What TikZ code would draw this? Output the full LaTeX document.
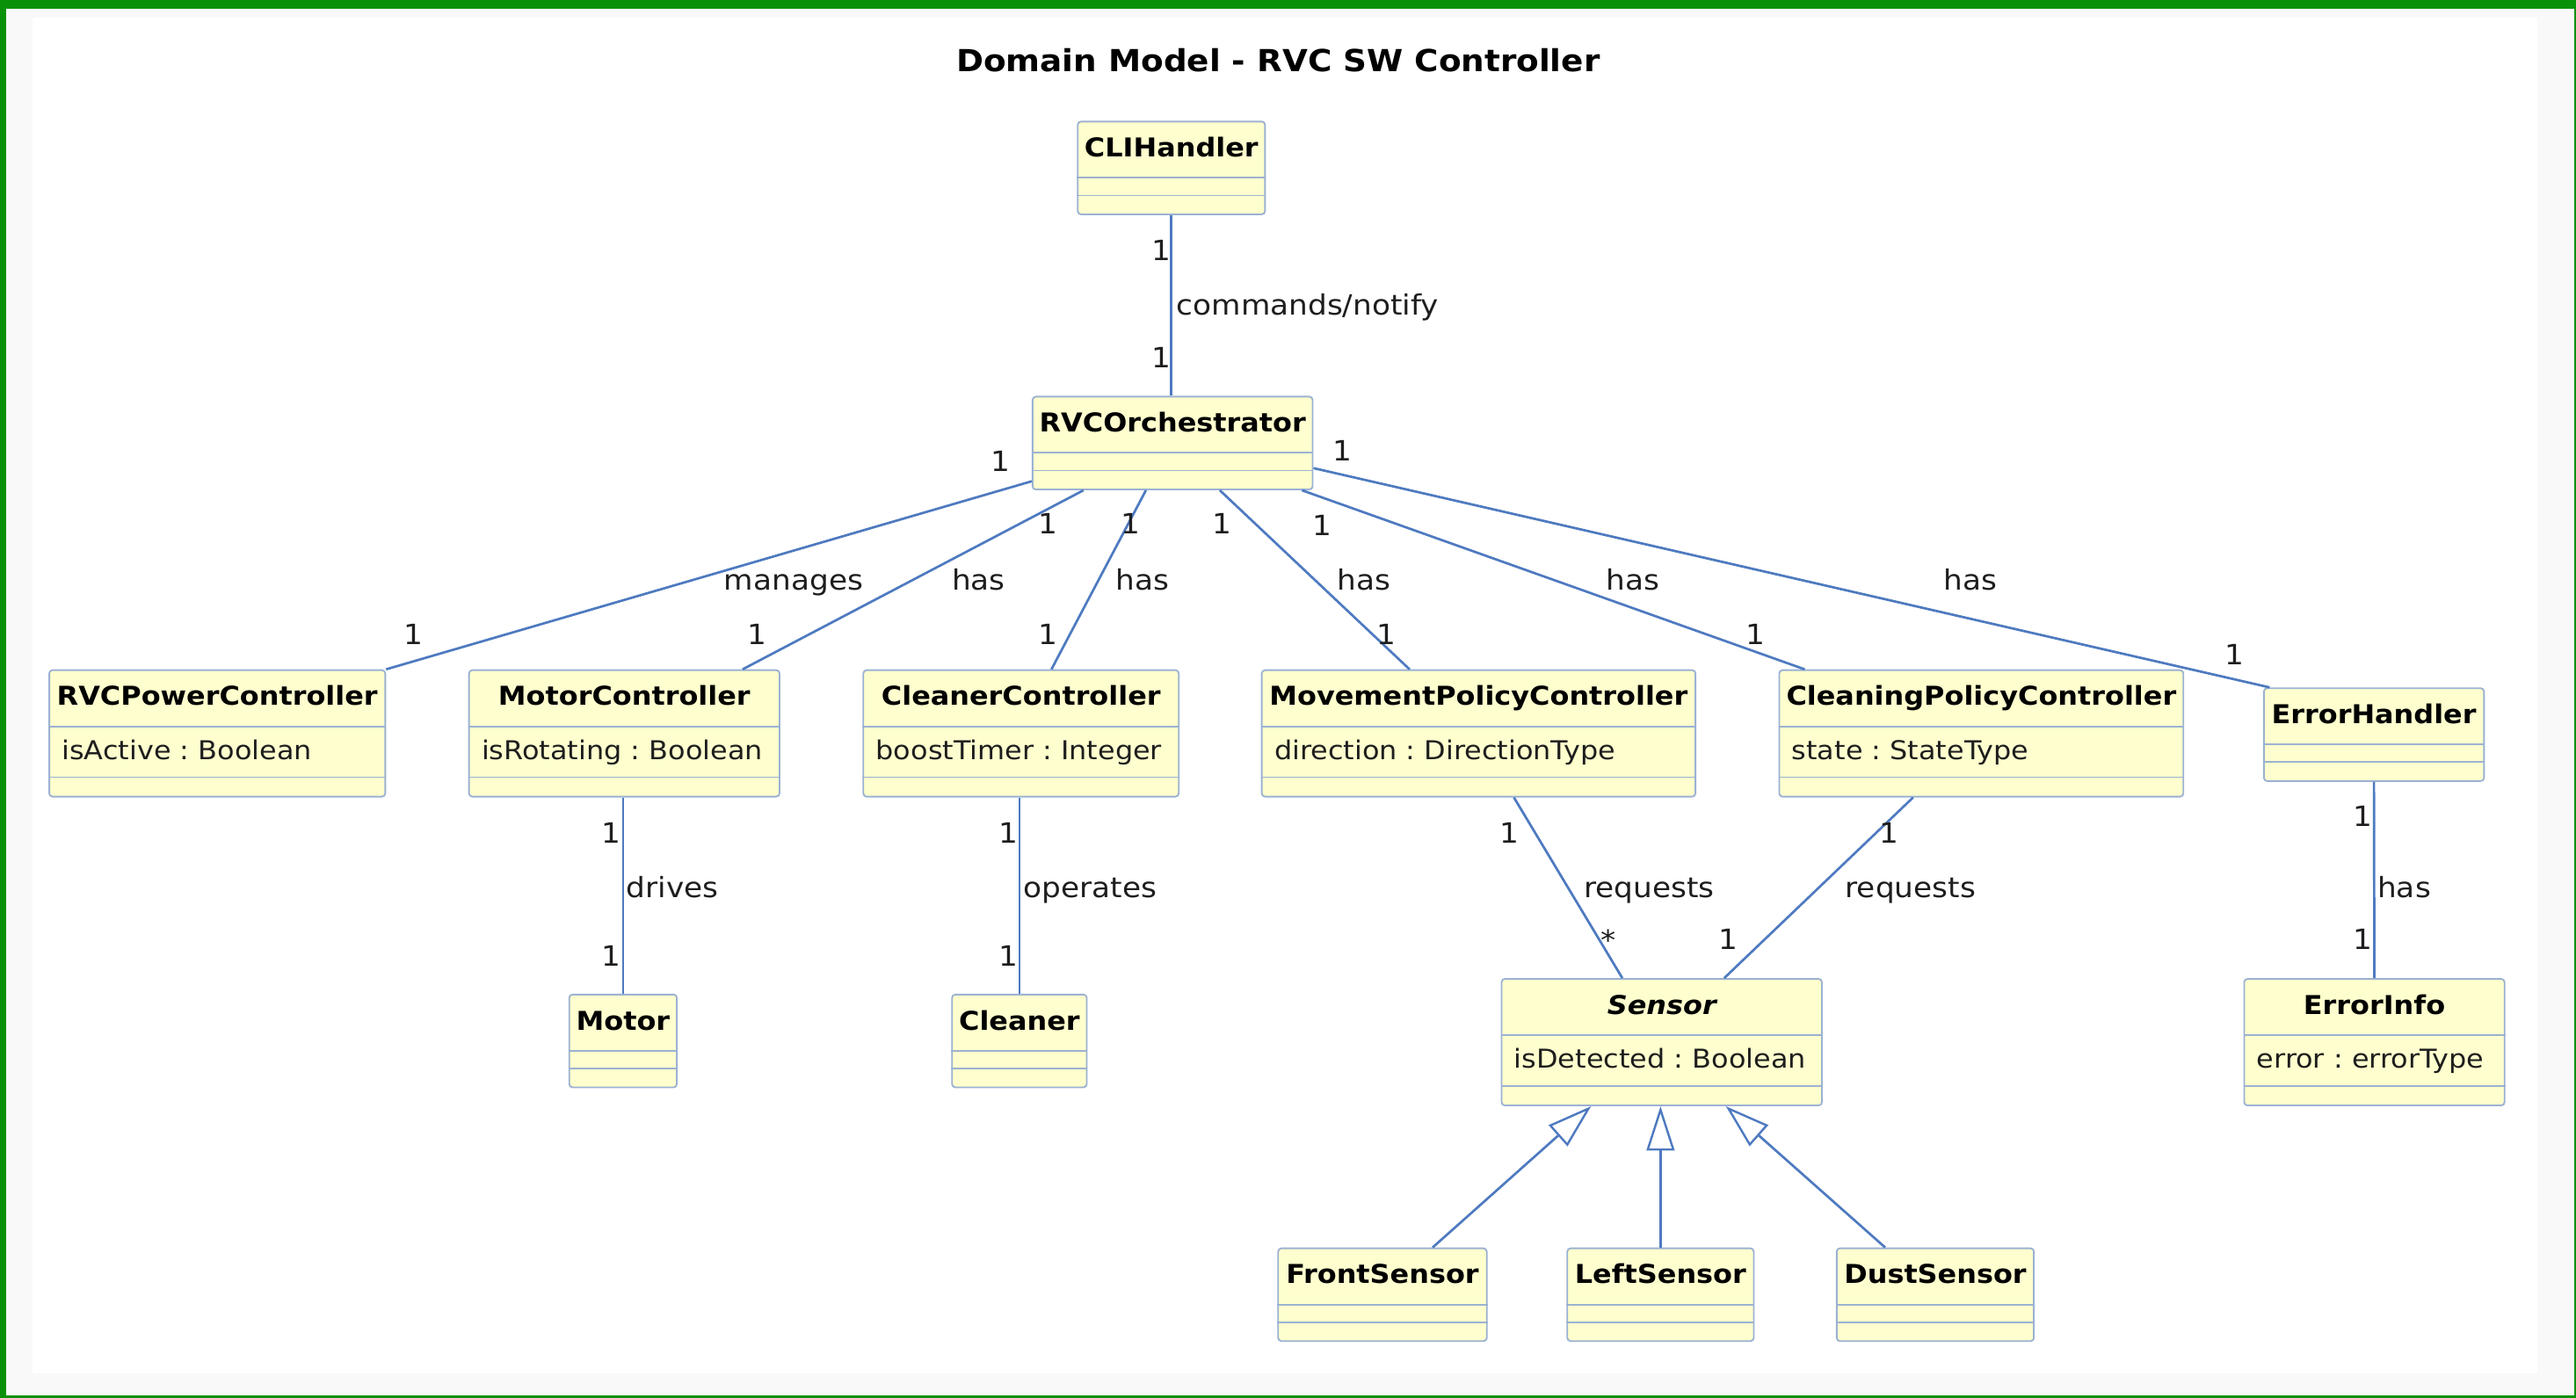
\documentclass[tikz,border=0pt]{standalone}
\usepackage{fontspec}
\setmainfont[FakeStretch=1.08]{DejaVu Sans}
\usetikzlibrary{arrows.meta}
\frenchspacing
\definecolor{umlgreen}{RGB}{10,145,10}
\definecolor{umlbg}{RGB}{249,249,249}
\definecolor{umlfill}{RGB}{254,254,206}
\definecolor{umlborder}{RGB}{155,178,210}
\definecolor{umlline}{RGB}{78,122,192}
\definecolor{umltext}{RGB}{30,30,30}
\newcommand\uclass[6]{%
  \def\tmpattr{#6}%
  \ifx\tmpattr\empty \def\ucH{56.5}\else \def\ucH{77}\fi
  \pgfmathsetmacro\ucW{#4-#2}%
  \node[classbox, minimum width={\ucW*1pt}, minimum height={\ucH*1pt}] (#1) at ({(#2+#4)/2},{#3+\ucH/2}) {};
  \draw[divline] ([yshift=-34.7pt]#1.north west) -- ([yshift=-34.7pt]#1.north east);
  \node[nametext] (#1-name) at ([yshift=-22pt]#1.north) {#5};
  \ifx\tmpattr\empty
    \draw[divline] ([yshift=-45.5pt]#1.north west) -- ([yshift=-45.5pt]#1.north east);
  \else
    \draw[divline] ([yshift=-65.7pt]#1.north west) -- ([yshift=-65.7pt]#1.north east);
    \node[attrtext] (#1-attr) at ([yshift=-55pt, xshift=8pt]#1.north west) {#6};
  \fi
}
\begin{document}
\begin{tikzpicture}[x=1pt,y=-1pt,
  classbox/.style={draw=umlborder, fill=umlfill, line width=1pt, rounded corners=2pt, inner sep=0pt, rectangle},
  divline/.style={draw=umlborder, line width=1pt},
  nametext/.style={font=\fontsize{15.8}{18}\selectfont\bfseries, inner sep=0pt, anchor=base, text=black},
  attrtext/.style={font=\fontsize{15.8}{18}\selectfont, inner sep=0pt, anchor=base west, text=umltext},
  assoc/.style={draw=umlline, line width=1.45pt},
  gen/.style={assoc, -{Triangle[length=27pt,width=17pt,fill=white,line width=1.3pt]}},
  lbl/.style={font=\fontsize{17}{20}\selectfont, inner sep=0pt, anchor=base west, text=umltext},
  mult/.style={font=\fontsize{17}{20}\selectfont, inner sep=0pt, text=umltext}]
\useasboundingbox (0,0) rectangle (1568,851);
\fill[umlgreen] (0,0) rectangle (1568,851);
\fill[umlbg] (3.7,5.4) rectangle (1566.9,849.6);
\fill[white] (19.8,10.7) rectangle (1544.6,836.3);

\node[font=\fontsize{18.5}{22}\selectfont\bfseries, inner sep=0pt, anchor=base] (title) at (778,43.5) {Domain Model - RVC SW Controller};

\uclass{cli}{656}{74}{770}{CLIHandler}{}
\uclass{rvc}{628.5}{241.5}{799}{RVCOrchestrator}{}
\uclass{power}{30}{408}{234.5}{RVCPowerController}{isActive : Boolean}
\uclass{mc}{285.5}{408}{474.5}{MotorController}{isRotating : Boolean}
\uclass{cc}{525.5}{408}{717.5}{CleanerController}{boostTimer : Integer}
\uclass{mpc}{768}{408}{1032}{MovementPolicyController}{direction : DirectionType}
\uclass{cpc}{1083}{408}{1329}{CleaningPolicyController}{state : StateType}
\uclass{eh}{1378}{419}{1512}{ErrorHandler}{}
\uclass{motor}{346.5}{605.5}{412}{Motor}{}
\uclass{cleaner}{579.5}{605.5}{661.5}{Cleaner}{}
\uclass{sensor}{914}{596}{1109}{\itshape Sensor}{isDetected : Boolean}
\uclass{ei}{1366}{596}{1524.5}{ErrorInfo}{error : errorType}
\uclass{fs}{778}{760}{905}{FrontSensor}{}
\uclass{ls}{954}{760}{1067.5}{LeftSensor}{}
\uclass{ds}{1118}{760}{1238}{DustSensor}{}

% associations
\draw[assoc] (cli.south) -- (cli.south |- rvc.north);
\draw[assoc] ([yshift=5.5pt]rvc.south west) -- (power.north east);
\draw[assoc] ([xshift=31.5pt]rvc.south west) -- ([xshift=-23pt]mc.north east);
\draw[assoc] ([xshift=69.5pt]rvc.south west) -- ([xshift=18.5pt]cc.north);
\draw[assoc] ([xshift=114.5pt]rvc.south west) -- ([xshift=90.5pt]mpc.north west);
\draw[assoc] ([xshift=-7pt]rvc.south east) -- ([xshift=16pt]cpc.north west);
\draw[assoc] ([yshift=13.5pt]rvc.south east) -- ([xshift=4pt]eh.north west);
\draw[assoc] (motor.north |- mc.south) -- (motor.north);
\draw[assoc] (cleaner.north |- cc.south) -- (cleaner.north);
\draw[assoc] ([xshift=154pt]mpc.south west) -- ([xshift=74pt]sensor.north west);
\draw[assoc] ([xshift=82pt]cpc.south west) -- ([xshift=136pt]sensor.north west);
\draw[assoc] (eh.south) -- (ei.north);
% generalizations
\draw[gen] ([xshift=30.5pt]fs.north) -- ([xshift=55pt]sensor.south west);
\draw[gen] (ls.north) -- (ls.north |- sensor.south);
\draw[gen] ([xshift=30pt]ds.north west) -- ([xshift=137pt]sensor.south west);

% association labels
\node[lbl] (l-cmd) at (716,191.6) {commands/notify};
\node[lbl] (l-man) at (440.6,359.4) {manages};
\node[lbl] (l-has1) at (579.2,359.4) {has};
\node[lbl] (l-has2) at (679,359.4) {has};
\node[lbl] (l-has3) at (814,359.4) {has};
\node[lbl] (l-has4) at (977.5,359.4) {has};
\node[lbl] (l-has5) at (1183,359.4) {has};
\node[lbl] (l-drv) at (381,546.5) {drives};
\node[lbl] (l-op) at (623,546.5) {operates};
\node[lbl] (l-req1) at (964,546.5) {requests};
\node[lbl] (l-req2) at (1123,546.5) {requests};
\node[lbl] (l-has6) at (1447,546.5) {has};

% multiplicities
\node[mult] (m1) at (707,152.5) {1};
\node[mult] (m2) at (707,217.7) {1};
\node[mult] (m3) at (609,281) {1};
\node[mult] (m4) at (638,319) {1};
\node[mult] (m5) at (688,319) {1};
\node[mult] (m6) at (744,319) {1};
\node[mult] (m7) at (805,320) {1};
\node[mult] (m8) at (817,274.6) {1};
\node[mult] (m9) at (251.5,386) {1};
\node[mult] (m10) at (461,386) {1};
\node[mult] (m11) at (638,386) {1};
\node[mult] (m12) at (844,386) {1};
\node[mult] (m13) at (1068.5,386) {1};
\node[mult] (m14) at (1360,398.6) {1};
\node[mult] (m15) at (372,507) {1};
\node[mult] (m16) at (372,582) {1};
\node[mult] (m17) at (614,507) {1};
\node[mult] (m18) at (614,582) {1};
\node[mult] (m19) at (919,507) {1};
\node[mult] (m20) at (979,572) {*};
\node[mult] (m21) at (1150,507) {1};
\node[mult] (m22) at (1052,572) {1};
\node[mult] (m23) at (1438,497) {1};
\node[mult] (m24) at (1438,572) {1};
\end{tikzpicture}
\end{document}
